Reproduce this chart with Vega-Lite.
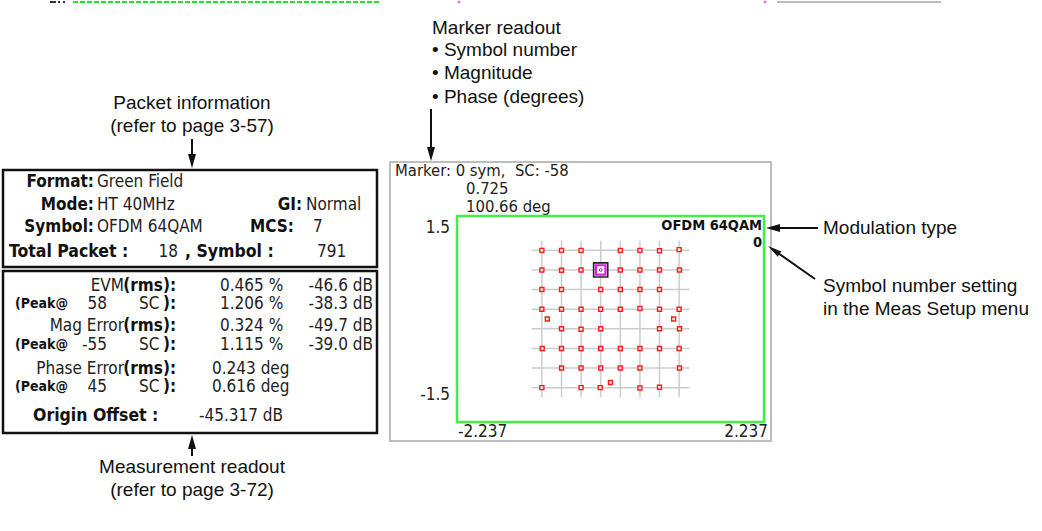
{
  "$schema": "https://vega.github.io/schema/vega-lite/v6.json",
  "width": 1042,
  "height": 531,
  "autosize": {"type": "fit", "contains": "padding"},
  "padding": 0,
  "background": "white",
  "config": {"view": {"stroke": null}},
  "datasets": {
    "boxBlack": [
      {"x": 3, "x2": 377, "y": 170, "y2": 267},
      {"x": 3, "x2": 377, "y": 271, "y2": 433}
    ],
    "boxGrey": [
      {"x": 390, "x2": 771, "y": 162, "y2": 441}
    ],
    "arrows": [
      {"x": 192, "y": 139, "x2": 192, "y2": 156},
      {"x": 431, "y": 109, "x2": 431, "y2": 150},
      {"x": 192, "y": 456, "x2": 192, "y2": 446},
      {"x": 818, "y": 228, "x2": 778, "y2": 228},
      {"x": 815, "y": 279, "x2": 778, "y2": 253}
    ],
    "headDown": [{"x": 192, "y": 168}, {"x": 431, "y": 161}],
    "headUp": [{"x": 192, "y": 435}],
    "headLeft": [{"x": 766, "y": 228}],
    "headDiag": [{"x": 768, "y": 246}],
    "annC": [
      {"x": 192, "y": 103, "t": "Packet information"},
      {"x": 192, "y": 126, "t": "(refer to page 3-57)"},
      {"x": 192, "y": 467, "t": "Measurement readout"},
      {"x": 192, "y": 490, "t": "(refer to page 3-72)"}
    ],
    "annL": [
      {"x": 432, "y": 28, "t": "Marker readout"},
      {"x": 432, "y": 50, "t": "• Symbol number"},
      {"x": 432, "y": 73, "t": "• Magnitude"},
      {"x": 432, "y": 97, "t": "• Phase (degrees)"},
      {"x": 823, "y": 228, "t": "Modulation type"},
      {"x": 823, "y": 286, "t": "Symbol number setting"},
      {"x": 823, "y": 309, "t": "in the Meas Setup menu"}
    ],
    "pBR": [
      {"x": 94, "y": 182, "t": "Format:"},
      {"x": 94, "y": 205, "t": "Mode:"},
      {"x": 94, "y": 227, "t": "Symbol:"},
      {"x": 302, "y": 205, "t": "GI:"},
      {"x": 294, "y": 227, "t": "MCS:"},
      {"x": 176, "y": 286, "t": "(rms):"},
      {"x": 176, "y": 326, "t": "(rms):"},
      {"x": 176, "y": 369, "t": "(rms):"},
      {"x": 176, "y": 304, "t": "):"},
      {"x": 176, "y": 345, "t": "):"},
      {"x": 176, "y": 387, "t": "):"}
    ],
    "scrBold": [
      {"x": 762, "y": 226, "t": "OFDM 64QAM"},
      {"x": 762, "y": 243, "t": "0"}
    ],
    "pBL": [
      {"x": 9, "y": 252, "t": "Total Packet :"},
      {"x": 185, "y": 252, "t": ", Symbol :"},
      {"x": 33, "y": 416, "t": "Origin Offset :"}
    ],
    "peak": [
      {"x": 15, "y": 304, "t": "(Peak@"},
      {"x": 15, "y": 345, "t": "(Peak@"},
      {"x": 15, "y": 387, "t": "(Peak@"}
    ],
    "pRR": [
      {"x": 124, "y": 286, "t": "EVM"},
      {"x": 124, "y": 326, "t": "Mag Error"},
      {"x": 124, "y": 369, "t": "Phase Error"},
      {"x": 107, "y": 304, "t": "58"},
      {"x": 107, "y": 345, "t": "-55"},
      {"x": 107, "y": 387, "t": "45"},
      {"x": 178, "y": 252, "t": "18"},
      {"x": 373, "y": 286, "t": "-46.6 dB"},
      {"x": 373, "y": 304, "t": "-38.3 dB"},
      {"x": 373, "y": 326, "t": "-49.7 dB"},
      {"x": 373, "y": 345, "t": "-39.0 dB"},
      {"x": 450, "y": 228, "t": "1.5"},
      {"x": 450, "y": 395, "t": "-1.5"},
      {"x": 768, "y": 432, "t": "2.237"}
    ],
    "pRL": [
      {"x": 97, "y": 182, "t": "Green Field"},
      {"x": 97, "y": 205, "t": "HT 40MHz"},
      {"x": 97, "y": 227, "t": "OFDM 64QAM"},
      {"x": 306, "y": 205, "t": "Normal"},
      {"x": 313, "y": 227, "t": "7"},
      {"x": 317, "y": 252, "t": "791"},
      {"x": 139, "y": 304, "t": "SC"},
      {"x": 139, "y": 345, "t": "SC"},
      {"x": 139, "y": 387, "t": "SC"},
      {"x": 220, "y": 286, "t": "0.465 %"},
      {"x": 220, "y": 304, "t": "1.206 %"},
      {"x": 220, "y": 326, "t": "0.324 %"},
      {"x": 220, "y": 345, "t": "1.115 %"},
      {"x": 212, "y": 369, "t": "0.243 deg"},
      {"x": 212, "y": 387, "t": "0.616 deg"},
      {"x": 199, "y": 416, "t": "-45.317 dB"},
      {"x": 458, "y": 432, "t": "-2.237"}
    ],
    "scrMarker": [
      {"x": 395, "y": 171, "t": "Marker: 0 sym,\u00a0 SC: -58"},
      {"x": 466, "y": 189, "t": "0.725"},
      {"x": 466, "y": 207, "t": "100.66 deg"}
    ],
    "stripGreen": [{"x": 73, "x2": 379, "y": 2}],
    "stripBlack": [{"x": 50, "x2": 56, "y": 2}, {"x": 58, "x2": 60, "y": 2}, {"x": 63, "x2": 65, "y": 2}],
    "stripGrey": [{"x": 777, "x2": 941, "y": 2}],
    "stripMag": [{"x": 459, "y": 2}, {"x": 765, "y": 2}],
    "grid": [
      {"g": -1.0}, {"g": -0.714}, {"g": -0.429}, {"g": -0.143},
      {"g": 0.143}, {"g": 0.429}, {"g": 0.714}, {"g": 1.0}
    ],
    "frame": [{"i": -2.237, "i2": 2.237, "q": -1.5, "q2": 1.5}],
    "symbols": [
      {"i": -1.0, "q": 1.0}, {"i": -0.714, "q": 1.0}, {"i": -0.429, "q": 1.0}, {"i": 0.143, "q": 1.0}, {"i": 0.429, "q": 1.0}, {"i": 0.714, "q": 0.995}, {"i": 1.0, "q": 1.01},
      {"i": -1.0, "q": 0.714}, {"i": -0.714, "q": 0.71}, {"i": -0.429, "q": 0.714}, {"i": -0.143, "q": 0.714}, {"i": 0.143, "q": 0.714}, {"i": 0.429, "q": 0.714}, {"i": 0.714, "q": 0.714}, {"i": 1.005, "q": 0.714},
      {"i": -1.0, "q": 0.429}, {"i": -0.714, "q": 0.429}, {"i": -0.143, "q": 0.429}, {"i": 0.143, "q": 0.429}, {"i": 0.429, "q": 0.429}, {"i": 0.714, "q": 0.429},
      {"i": -1.0, "q": 0.143}, {"i": -0.714, "q": 0.143}, {"i": -0.429, "q": 0.143}, {"i": -0.143, "q": 0.143}, {"i": 0.143, "q": 0.143}, {"i": 0.429, "q": 0.155}, {"i": 0.714, "q": 0.143}, {"i": 1.0, "q": 0.143},
      {"i": -0.921, "q": 0.0}, {"i": 0.92, "q": 0.0},
      {"i": -0.714, "q": -0.143}, {"i": -0.429, "q": -0.15}, {"i": -0.143, "q": -0.143}, {"i": 0.714, "q": -0.143}, {"i": 1.005, "q": -0.143},
      {"i": -0.995, "q": -0.429}, {"i": -0.714, "q": -0.429}, {"i": -0.429, "q": -0.429}, {"i": -0.143, "q": -0.429}, {"i": 0.143, "q": -0.429}, {"i": 0.429, "q": -0.429}, {"i": 0.714, "q": -0.429}, {"i": 1.0, "q": -0.429},
      {"i": -0.714, "q": -0.714}, {"i": -0.429, "q": -0.714}, {"i": -0.143, "q": -0.714}, {"i": 0.143, "q": -0.714}, {"i": 0.429, "q": -0.714}, {"i": 1.005, "q": -0.714},
      {"i": -1.0, "q": -1.0}, {"i": -0.429, "q": -1.0}, {"i": -0.15, "q": -1.0}, {"i": 0.429, "q": -1.005}, {"i": 0.714, "q": -0.995},
      {"i": 0.0, "q": -0.925}
    ],
    "marker": [{"i": -0.143, "q": 0.714}]
  },
  "resolve": {"scale": {"x": "independent", "y": "independent"}},
  "layer": [
    {
      "encoding": {
        "x": {"field": "x", "type": "quantitative", "scale": {"domain": [0, 1042], "nice": false, "zero": false}, "axis": null},
        "y": {"field": "y", "type": "quantitative", "scale": {"domain": [0, 531], "nice": false, "zero": false, "reverse": true}, "axis": null}
      },
      "layer": [
        {"data": {"name": "stripGreen"}, "mark": {"type": "rule", "stroke": "#22e022", "strokeWidth": 2, "strokeDash": [5, 2]}, "encoding": {"x2": {"field": "x2"}}},
        {"data": {"name": "stripBlack"}, "mark": {"type": "rule", "stroke": "#333333", "strokeWidth": 2}, "encoding": {"x2": {"field": "x2"}}},
        {"data": {"name": "stripGrey"}, "mark": {"type": "rule", "stroke": "#bbbbbb", "strokeWidth": 2}, "encoding": {"x2": {"field": "x2"}}},
        {"data": {"name": "stripMag"}, "mark": {"type": "point", "shape": "square", "filled": true, "color": "#ee22ee", "size": 6}},
        {"data": {"name": "boxBlack"}, "mark": {"type": "rect", "fill": null, "fillOpacity": 0, "stroke": "#111111", "strokeWidth": 2.5}, "encoding": {"x2": {"field": "x2"}, "y2": {"field": "y2"}}},
        {"data": {"name": "boxGrey"}, "mark": {"type": "rect", "fill": null, "fillOpacity": 0, "stroke": "#a8a8a8", "strokeWidth": 1.5}, "encoding": {"x2": {"field": "x2"}, "y2": {"field": "y2"}}},
        {"data": {"name": "arrows"}, "mark": {"type": "rule", "stroke": "#111111", "strokeWidth": 2}, "encoding": {"x2": {"field": "x2"}, "y2": {"field": "y2"}}},
        {"data": {"name": "headDown"}, "mark": {"type": "point", "shape": "M0,0L-0.5,-1.75L0.5,-1.75Z", "filled": true, "color": "#111111", "size": 256, "strokeWidth": 0, "opacity": 1}},
        {"data": {"name": "headUp"}, "mark": {"type": "point", "shape": "M0,0L-0.5,-1.75L0.5,-1.75Z", "filled": true, "color": "#111111", "size": 256, "strokeWidth": 0, "opacity": 1, "angle": 180}},
        {"data": {"name": "headLeft"}, "mark": {"type": "point", "shape": "M0,0L-0.5,-1.75L0.5,-1.75Z", "filled": true, "color": "#111111", "size": 256, "strokeWidth": 0, "opacity": 1, "angle": 90}},
        {"data": {"name": "headDiag"}, "mark": {"type": "point", "shape": "M0,0L-0.4,-1.75L0.4,-1.75Z", "filled": true, "color": "#111111", "size": 256, "strokeWidth": 0, "opacity": 1, "angle": 125}},
        {"data": {"name": "annC"}, "mark": {"type": "text", "font": "Liberation Sans", "fontSize": 19, "align": "center", "baseline": "middle", "color": "#111111"}, "encoding": {"text": {"field": "t"}}},
        {"data": {"name": "annL"}, "mark": {"type": "text", "font": "Liberation Sans", "fontSize": 19, "align": "left", "baseline": "middle", "color": "#111111"}, "encoding": {"text": {"field": "t"}}},
        {"data": {"name": "pBR"}, "mark": {"type": "text", "font": "DejaVu Sans Condensed, DejaVu Sans", "fontSize": 17, "fontWeight": "bold", "align": "right", "baseline": "middle", "color": "#111111"}, "encoding": {"text": {"field": "t"}}},
        {"data": {"name": "scrBold"}, "mark": {"type": "text", "font": "DejaVu Sans Condensed, DejaVu Sans", "fontSize": 14.5, "fontWeight": "bold", "align": "right", "baseline": "middle", "color": "#111111"}, "encoding": {"text": {"field": "t"}}},
        {"data": {"name": "pBL"}, "mark": {"type": "text", "font": "DejaVu Sans Condensed, DejaVu Sans", "fontSize": 17.5, "fontWeight": "bold", "align": "left", "baseline": "middle", "color": "#111111"}, "encoding": {"text": {"field": "t"}}},
        {"data": {"name": "peak"}, "mark": {"type": "text", "font": "DejaVu Sans Condensed, DejaVu Sans", "fontSize": 14, "fontWeight": "bold", "align": "left", "baseline": "middle", "color": "#111111"}, "encoding": {"text": {"field": "t"}}},
        {"data": {"name": "pRR"}, "mark": {"type": "text", "font": "DejaVu Sans Condensed, DejaVu Sans", "fontSize": 17, "align": "right", "baseline": "middle", "color": "#222222"}, "encoding": {"text": {"field": "t"}}},
        {"data": {"name": "pRL"}, "mark": {"type": "text", "font": "DejaVu Sans Condensed, DejaVu Sans", "fontSize": 17, "align": "left", "baseline": "middle", "color": "#222222"}, "encoding": {"text": {"field": "t"}}},
        {"data": {"name": "scrMarker"}, "mark": {"type": "text", "font": "DejaVu Sans Condensed, DejaVu Sans", "fontSize": 16.5, "align": "left", "baseline": "middle", "color": "#222222"}, "encoding": {"text": {"field": "t"}}}
      ]
    },
    {
      "layer": [
        {
          "data": {"name": "grid"},
          "mark": {"type": "rule", "stroke": "#cccccc", "strokeWidth": 1.5},
          "encoding": {
            "x": {"field": "g", "type": "quantitative", "scale": {"domain": [-2.237, 2.237], "range": [457, 764], "nice": false, "zero": false}, "axis": null},
            "y": {"datum": -1.14, "type": "quantitative", "scale": {"domain": [-1.5, 1.5], "range": [422, 216], "nice": false, "zero": false}, "axis": null},
            "y2": {"datum": 1.14}
          }
        },
        {
          "data": {"name": "grid"},
          "mark": {"type": "rule", "stroke": "#cccccc", "strokeWidth": 1.5},
          "encoding": {
            "y": {"field": "g", "type": "quantitative", "scale": {"domain": [-1.5, 1.5], "range": [422, 216], "nice": false, "zero": false}, "axis": null},
            "x": {"datum": -1.15, "type": "quantitative", "scale": {"domain": [-2.237, 2.237], "range": [457, 764], "nice": false, "zero": false}, "axis": null},
            "x2": {"datum": 1.15}
          }
        },
        {
          "data": {"name": "frame"},
          "mark": {"type": "rect", "fill": null, "fillOpacity": 0, "stroke": "#44ee44", "strokeWidth": 2.5},
          "encoding": {
            "x": {"field": "i", "type": "quantitative", "scale": {"domain": [-2.237, 2.237], "range": [457, 764], "nice": false, "zero": false}, "axis": null},
            "x2": {"field": "i2"},
            "y": {"field": "q", "type": "quantitative", "scale": {"domain": [-1.5, 1.5], "range": [422, 216], "nice": false, "zero": false}, "axis": null},
            "y2": {"field": "q2"}
          }
        },
        {
          "data": {"name": "symbols"},
          "mark": {"type": "point", "shape": "square", "filled": true, "fill": "#fff0f0", "stroke": "#ff1a1a", "strokeWidth": 1.4, "size": 16, "opacity": 1},
          "encoding": {
            "x": {"field": "i", "type": "quantitative", "scale": {"domain": [-2.237, 2.237], "range": [457, 764], "nice": false, "zero": false}, "axis": null},
            "y": {"field": "q", "type": "quantitative", "scale": {"domain": [-1.5, 1.5], "range": [422, 216], "nice": false, "zero": false}, "axis": null}
          }
        },
        {
          "data": {"name": "marker"},
          "mark": {"type": "point", "shape": "square", "filled": false, "stroke": "#222222", "strokeWidth": 1.6, "size": 200, "opacity": 1},
          "encoding": {
            "x": {"field": "i", "type": "quantitative", "scale": {"domain": [-2.237, 2.237], "range": [457, 764], "nice": false, "zero": false}, "axis": null},
            "y": {"field": "q", "type": "quantitative", "scale": {"domain": [-1.5, 1.5], "range": [422, 216], "nice": false, "zero": false}, "axis": null}
          }
        },
        {
          "data": {"name": "marker"},
          "mark": {"type": "point", "shape": "square", "filled": true, "fill": "white", "stroke": "#e020e0", "strokeWidth": 2.2, "size": 90, "opacity": 1},
          "encoding": {
            "x": {"field": "i", "type": "quantitative", "scale": {"domain": [-2.237, 2.237], "range": [457, 764], "nice": false, "zero": false}, "axis": null},
            "y": {"field": "q", "type": "quantitative", "scale": {"domain": [-1.5, 1.5], "range": [422, 216], "nice": false, "zero": false}, "axis": null}
          }
        },
        {
          "data": {"name": "marker"},
          "mark": {"type": "point", "shape": "circle", "filled": false, "stroke": "#7a2a9a", "strokeWidth": 1, "size": 8, "opacity": 1},
          "encoding": {
            "x": {"field": "i", "type": "quantitative", "scale": {"domain": [-2.237, 2.237], "range": [457, 764], "nice": false, "zero": false}, "axis": null},
            "y": {"field": "q", "type": "quantitative", "scale": {"domain": [-1.5, 1.5], "range": [422, 216], "nice": false, "zero": false}, "axis": null}
          }
        }
      ]
    }
  ]
}
